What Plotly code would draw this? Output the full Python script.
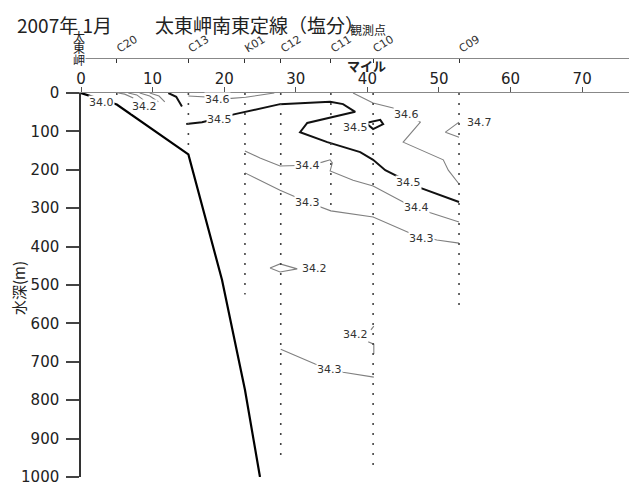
import plotly.graph_objects as go

# ---------------- data ----------------
x_ticks = [0, 10, 20, 30, 40, 50, 60, 70]
y_ticks = [0, 100, 200, 300, 400, 500, 600, 700, 800, 900, 1000]

stations = ["C20", "C13", "K01", "C12", "C11", "C10", "C09"]
station_mile = [5.0, 15.0, 22.9, 27.9, 34.9, 40.8, 52.8]
station_depth = [15, 150, 525, 955, 305, 975, 555]

bottom_mile = [0, 5, 15, 19.7, 22.9, 25.0]
bottom_depth = [0, 30, 160, 487, 773, 1000]

# thin contour segments (salinity)
s341_mile = [5.2, 6.1, 7.3];     s341_depth = [0, 3, 13]
s342_mile = [6.6, 7.8, 8.7];     s342_depth = [0, 5, 18]
s343_mile = [8.2, 9.6, 10.8];    s343_depth = [0, 8, 23]
s344_mile = [9.6, 10.9, 11.7];   s344_depth = [0, 8, 23]

s346a_mile = [15.0, 21.0, 23.0, 25.0, 27.0]
s346a_depth = [8, 14, 11, 5, 0]
s346b_mile = [38.0, 40.8, 43.6, 45.5, 47.4, 45.0, 50.6, 51.3, 52.8]
s346b_depth = [0, 26, 39, 55, 76, 128, 174, 201, 237]

s347_mile = [52.8, 50.9, 52.8]
s347_depth = [76, 102, 115]

s344b_mile = [22.9, 25.0, 27.8, 31.6, 33.7, 34.8, 35.1, 34.8, 38.0, 40.8, 45.0, 48.8, 52.8]
s344b_depth = [151, 169, 190, 188, 180, 174, 182, 203, 227, 242, 284, 312, 336]

s343b_mile = [22.9, 27.8, 31.6, 33.7, 34.9, 40.8, 46.0, 49.7, 52.8]
s343b_depth = [208, 253, 284, 299, 307, 323, 365, 383, 391]

s342b_mile = [26.4, 27.8, 30.2, 27.8, 26.4]
s342b_depth = [456, 445, 458, 466, 456]

s342c_mile = [40.5, 40.9, None, 40.1, 40.9, 40.9]
s342c_depth = [617, 607, None, 648, 654, 680]

s343c_mile = [27.9, 32.7, 36.6, 40.9]
s343c_depth = [667, 706, 727, 740]

# thick 34.5 contours
s345a_mile = [12.2, 13.3, 14.1]
s345a_depth = [0, 10, 35]
s345b_mile = [14.7, 16.9, 21.5, 27.8, 34.8, 36.6, 38.3, 31.6, 30.6, 34.4, 39.0, 40.8,
              42.5, 43.9, 47.4, 52.8]
s345b_depth = [81, 76, 55, 29, 23, 29, 49, 78, 102, 128, 154, 174, 201, 214, 247, 284]
s345c_mile = [39.8, 41.8, 42.2, 40.8, 39.8]
s345c_depth = [78, 70, 81, 94, 78]

label_text = ["34.0", "34.2", "34.6", "34.5", "34.5", "34.6", "34.7", "34.4", "34.4",
              "34.5", "34.3", "34.3", "34.2", "34.2", "34.3"]
label_mile = [2.8, 8.8, 19.0, 19.3, 38.4, 45.5, 55.7, 31.6, 46.8,
              45.8, 31.6, 47.5, 32.6, 38.4, 34.7]
label_depth = [26, 34, 18, 70, 91, 55, 78, 188, 299,
               232, 284, 378, 458, 630, 721]

# ---------------- figure ----------------
fig = go.Figure()

THIN = dict(color="#808080", width=1.1)
THICK = dict(color="#111111", width=2)

thin_sets = [(s341_mile, s341_depth), (s342_mile, s342_depth), (s343_mile, s343_depth),
             (s344_mile, s344_depth), (s346a_mile, s346a_depth), (s346b_mile, s346b_depth),
             (s347_mile, s347_depth), (s344b_mile, s344b_depth), (s343b_mile, s343b_depth),
             (s342b_mile, s342b_depth), (s342c_mile, s342c_depth), (s343c_mile, s343c_depth)]
for xs, ys in thin_sets:
    fig.add_trace(go.Scatter(x=xs, y=ys, mode="lines", line=THIN, hoverinfo="skip"))

for xs, ys in [(s345a_mile, s345a_depth), (s345b_mile, s345b_depth), (s345c_mile, s345c_depth)]:
    fig.add_trace(go.Scatter(x=xs, y=ys, mode="lines", line=THICK, hoverinfo="skip"))

# station dotted verticals
vx, vy = [], []
for m, d in zip(station_mile, station_depth):
    vx += [m, m, None]
    vy += [0, d, None]
fig.add_trace(go.Scatter(x=vx, y=vy, mode="lines",
                         line=dict(color="#444444", width=1.6, dash="2px,8px"),
                         hoverinfo="skip"))

# bottom profile
fig.add_trace(go.Scatter(x=bottom_mile, y=bottom_depth, mode="lines",
                         line=dict(color="#000000", width=2.2), hoverinfo="skip"))

# invisible trace to show station axis
fig.add_trace(go.Scatter(x=station_mile, y=[0] * len(station_mile), xaxis="x2",
                         mode="markers", marker=dict(opacity=0), hoverinfo="skip"))

ann = []
for t, m, d in zip(label_text, label_mile, label_depth):
    ann.append(dict(x=m, y=d, xref="x", yref="y", text=t, showarrow=False,
                    xanchor="center", yanchor="middle",
                    font=dict(family="DejaVu Sans", size=11, color="#333333"),
                    bgcolor="white", borderpad=0))

PW = 552.0
PH = 419.0
def px(xp):
    return (xp - 81) / PW
def py(yp):
    return (477 - yp) / PH

JP = "Noto Sans CJK JP"
def txt(x, y, s, size, **kw):
    d = dict(x=px(x), y=py(y), xref="paper", yref="paper", text=s, showarrow=False,
             xanchor="center", yanchor="middle", font=dict(family=JP, size=size, color="#222"))
    d.update(kw)
    return d

ann += [
    txt(15, 9, "2007年 1月", 19, xanchor="left", yanchor="top"),
    txt(153, 9, "太東岬南東定線（塩分）", 19, xanchor="left", yanchor="top"),
    txt(79, 59, "岬", 12, bgcolor="white", borderpad=0),
    txt(79, 47.5, "東", 12),
    txt(79, 36, "太", 12),
    txt(368, 29, "観測点", 12),
    txt(366, 66, "<b>マイル</b>", 13),
    txt(18, 288, "水深(m)", 15, textangle=-90),
]

fig.update_layout(
    width=629, height=476,
    margin=dict(l=73, r=4, t=50, b=7, autoexpand=False),
    paper_bgcolor="white", plot_bgcolor="white",
    showlegend=False,
    annotations=ann,
    xaxis=dict(side="top", anchor="y", range=[0, 77.1], tickvals=x_ticks,
               ticks="outside", ticklen=5, tickcolor="#555", showline=True,
               linecolor="#888888", linewidth=1.2, showgrid=False, zeroline=False,
               ticklabelstandoff=-3, automargin=False,
               tickfont=dict(family="DejaVu Sans", size=15, color="#222")),
    xaxis2=dict(side="top", overlaying="x", anchor="free", position=1.0, matches="x",
                tickvals=station_mile, ticktext=stations, tickangle=-32,
                ticks="inside", ticklen=4, tickcolor="#333", showline=True,
                linecolor="#888888", linewidth=1.2, showgrid=False, zeroline=False,
                automargin=False,
                tickfont=dict(family="DejaVu Sans", size=11, color="#333")),
    yaxis=dict(domain=[0, 384 / 419], range=[1000, 0], tickvals=y_ticks,
               ticks="outside", ticklen=13, tickwidth=1.5, tickcolor="#444",
               showline=True, linecolor="#333", linewidth=1.5, showgrid=False,
               zeroline=False, ticklabelstandoff=4, ticklabeloverflow="allow",
               automargin=False,
               tickfont=dict(family="DejaVu Sans", size=15, color="#222")),
)

fig.write_html("out.html")
